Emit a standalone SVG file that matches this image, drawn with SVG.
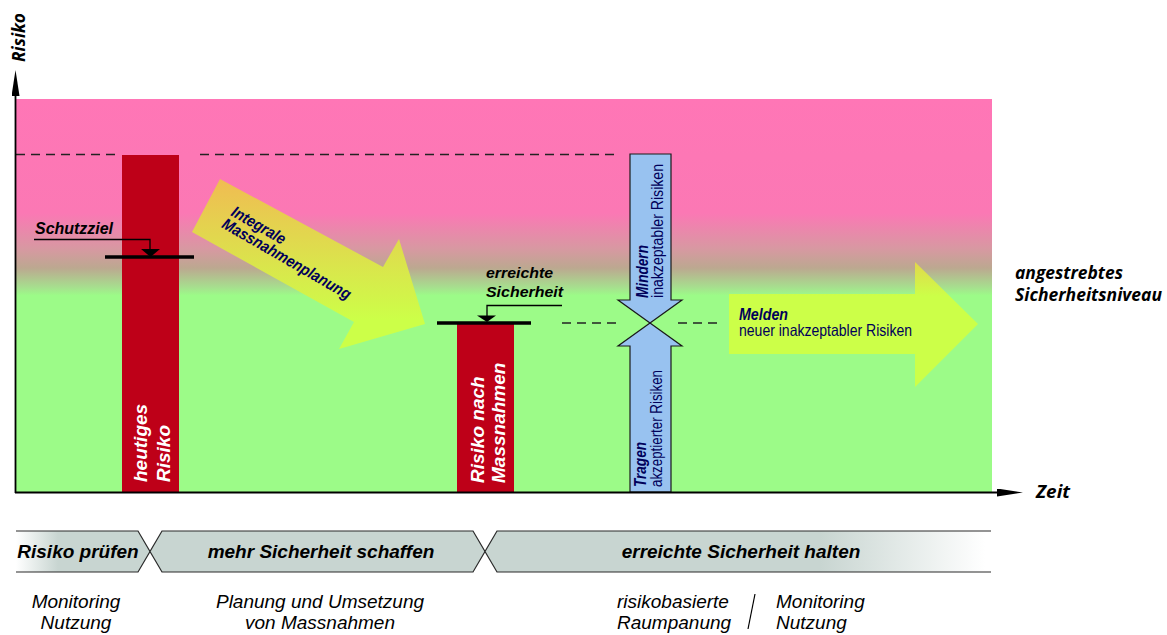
<svg xmlns="http://www.w3.org/2000/svg" width="1167" height="635" viewBox="0 0 1167 635">
<defs>
  <linearGradient id="bg" gradientUnits="userSpaceOnUse" x1="0" y1="99" x2="0" y2="492">
    <stop offset="0" stop-color="#FF76B6"/>
    <stop offset="0.29" stop-color="#FB78B4"/>
    <stop offset="0.38" stop-color="#D898A2"/>
    <stop offset="0.43" stop-color="#BCA890"/>
    <stop offset="0.48" stop-color="#A6E08E"/>
    <stop offset="0.50" stop-color="#9CFB88"/>
    <stop offset="1" stop-color="#9CFB88"/>
  </linearGradient>
  <linearGradient id="yarrow" gradientUnits="userSpaceOnUse" x1="0" y1="180" x2="0" y2="320">
    <stop offset="0" stop-color="#F0BC52"/>
    <stop offset="1" stop-color="#CCFF48"/>
  </linearGradient>
  <linearGradient id="garrow" gradientUnits="userSpaceOnUse" x1="0" y1="262" x2="0" y2="296">
    <stop offset="0" stop-color="#E2D64C"/>
    <stop offset="1" stop-color="#CCFF48"/>
  </linearGradient>
  <linearGradient id="band1" gradientUnits="userSpaceOnUse" x1="16" y1="0" x2="58" y2="0">
    <stop offset="0" stop-color="#FFFFFF"/>
    <stop offset="1" stop-color="#C8D5D1"/>
  </linearGradient>
  <linearGradient id="band3" gradientUnits="userSpaceOnUse" x1="820" y1="0" x2="985" y2="0">
    <stop offset="0" stop-color="#C8D5D1"/>
    <stop offset="1" stop-color="#FFFFFF"/>
  </linearGradient>
  <marker id="ah" viewBox="0 0 26 8" refX="0" refY="4" markerWidth="26" markerHeight="8" markerUnits="userSpaceOnUse" orient="auto">
    <path d="M0,0 L26,4 L0,8 Z" fill="#000"/>
  </marker>
  <style>
    .dash { stroke:#222; stroke-width:1.3; stroke-dasharray:9 6; fill:none; }
    .thick { stroke:#000; stroke-width:3.5; fill:none; }
    .thin { stroke:#000; stroke-width:1.3; fill:none; }
    .red { fill:#BE0018; }
    .blue { fill:#98C2F0; stroke:#1a1a1a; stroke-width:1.2; }
    .band { fill:#C8D5D1; stroke:none; }
    .bandline { fill:none; stroke:#2a2a2a; stroke-width:1.2; }
    .bi { font-family:"Liberation Sans", Arial, sans-serif; font-weight:bold; font-style:italic; }
    .it { font-family:"Liberation Sans", Arial, sans-serif; font-style:italic; }
    .rg { font-family:"Liberation Sans", Arial, sans-serif; }
    .os { font-family:"Open Sans", "DejaVu Sans", sans-serif; font-weight:bold; font-style:italic; fill:#000; }
    .navy { fill:#00005A; }
    .white { fill:#FFFFFF; }
  </style>
</defs>

<g id="background">
  <rect x="16" y="99" width="976" height="393" fill="url(#bg)"/>
</g>

<g id="levels">
  <path class="dash" d="M16,154.5 H118 M200,154.5 H614"/>
  <path class="dash" d="M562,323 H620 M678,323 H722"/>
</g>

<g id="bar-heute">
  <rect class="red" x="122" y="155" width="57" height="337"/>
  <g class="bi white" font-size="19">
    <text transform="translate(147,482) rotate(-90)">heutiges</text>
    <text transform="translate(170,482) rotate(-90)">Risiko</text>
  </g>
</g>

<g id="schutzziel">
  <path class="thick" d="M105,257 H194"/>
  <path class="thin" d="M34,239.5 H150 V249"/>
  <path d="M141,249 L160,249 L150.5,257 Z" fill="#000"/>
  <text class="bi" x="35" y="234" font-size="16" textLength="78" lengthAdjust="spacingAndGlyphs">Schutzziel</text>
</g>

<g id="arrow-massnahmen">
  <path d="M220,179 L383,267 L399,239 L425,324 L339,349 L354,322 L192,232 Z" fill="url(#yarrow)"/>
  <g class="bi navy" font-size="16" transform="translate(230,215) rotate(30)">
    <text x="0" y="0" textLength="60" lengthAdjust="spacingAndGlyphs">Integrale</text>
    <text x="-2" y="15" textLength="146" lengthAdjust="spacingAndGlyphs">Massnahmenplanung</text>
  </g>
</g>

<g id="bar-nach">
  <rect class="red" x="457" y="323" width="57" height="169"/>
  <g class="bi white" font-size="19">
    <text transform="translate(484,483) rotate(-90)">Risiko nach</text>
    <text transform="translate(505,483) rotate(-90)">Massnahmen</text>
  </g>
</g>

<g id="erreichte">
  <path class="thick" d="M437,323 H531"/>
  <path class="thin" d="M562,305.5 H487 V316"/>
  <path d="M477,315.5 L496,315.5 L487,322 Z" fill="#000"/>
  <text class="bi" x="486" y="278" font-size="15.5" textLength="67" lengthAdjust="spacingAndGlyphs">erreichte</text>
  <text class="bi" x="486" y="297" font-size="15.5" textLength="77" lengthAdjust="spacingAndGlyphs">Sicherheit</text>
</g>

<g id="arrow-mindern">
  <path class="blue" d="M630,154 H671 V300 H682 L650,323 L618,300 H630 Z"/>
  <g class="navy" font-size="16">
    <text class="bi" transform="translate(648,298) rotate(-90)" textLength="53" lengthAdjust="spacingAndGlyphs">Mindern</text>
    <text class="rg" transform="translate(663,298) rotate(-90)" textLength="134" lengthAdjust="spacingAndGlyphs">inakzeptabler Risiken</text>
  </g>
</g>

<g id="arrow-tragen">
  <path class="blue" d="M650,323 L682,346 H671 V492 H630 V346 H618 Z"/>
  <g class="navy" font-size="16">
    <text class="bi" transform="translate(646,487) rotate(-90)" textLength="45" lengthAdjust="spacingAndGlyphs">Tragen</text>
    <text class="rg" transform="translate(662,487) rotate(-90)" textLength="117" lengthAdjust="spacingAndGlyphs">akzeptierter Risiken</text>
  </g>
</g>

<g id="arrow-melden">
  <path d="M729,294 H915 V262 L978,324 L915,387 V354 H729 Z" fill="url(#garrow)"/>
  <text class="bi navy" x="739" y="320" font-size="16.5" textLength="49" lengthAdjust="spacingAndGlyphs">Melden</text>
  <text class="rg navy" x="739" y="336" font-size="16.5" textLength="173" lengthAdjust="spacingAndGlyphs">neuer inakzeptabler Risiken</text>
</g>

<g id="axes">
  <line x1="15" y1="492.5" x2="997" y2="492.5" stroke="#000" stroke-width="1.8" marker-end="url(#ah)"/>
  <line x1="15.5" y1="493" x2="15.5" y2="96" stroke="#000" stroke-width="1.8" marker-end="url(#ah)"/>
  <text class="os" transform="translate(25,62) rotate(-90)" font-size="17" textLength="49" lengthAdjust="spacingAndGlyphs">Risiko</text>
  <text class="os" x="1036" y="498" font-size="17" textLength="34" lengthAdjust="spacingAndGlyphs">Zeit</text>
  <text class="os" x="1015" y="279" font-size="17" textLength="108" lengthAdjust="spacingAndGlyphs">angestrebtes</text>
  <text class="os" x="1015" y="301" font-size="17" textLength="147" lengthAdjust="spacingAndGlyphs">Sicherheitsniveau</text>
</g>

<g id="phase-pruefen">
  <path d="M16,531 H138 L150,551.5 L138,572 H16 Z" fill="url(#band1)"/>
  <path class="bandline" d="M16,531 H138 L150,551.5 L138,572 H16"/>
  <text class="bi" x="78" y="558" font-size="19" text-anchor="middle">Risiko prüfen</text>
  <text class="it" x="76" y="608" font-size="19" text-anchor="middle">Monitoring</text>
  <text class="it" x="76" y="629" font-size="19" text-anchor="middle">Nutzung</text>
</g>

<g id="phase-schaffen">
  <path class="band" d="M162,531 H473 L485,551.5 L473,572 H162 L150,551.5 Z"/>
  <path class="bandline" d="M162,531 H473 L485,551.5 L473,572 H162 L150,551.5 Z"/>
  <text class="bi" x="321" y="558" font-size="19" text-anchor="middle">mehr Sicherheit schaffen</text>
  <text class="it" x="320" y="608" font-size="19" text-anchor="middle">Planung und Umsetzung</text>
  <text class="it" x="320" y="629" font-size="19" text-anchor="middle">von Massnahmen</text>
</g>

<g id="phase-halten">
  <path d="M497,531 H991 V572 H497 L485,551.5 Z" fill="url(#band3)"/>
  <path class="bandline" d="M991,531 H497 L485,551.5 L497,572 H991"/>
  <text class="bi" x="741" y="558" font-size="19" text-anchor="middle">erreichte Sicherheit halten</text>
  <text class="it" x="617" y="608" font-size="19">risikobasierte</text>
  <text class="it" x="617" y="629" font-size="19">Raumpanung</text>
  <line x1="755" y1="594" x2="748" y2="629" stroke="#000" stroke-width="1.2"/>
  <text class="it" x="776" y="608" font-size="19">Monitoring</text>
  <text class="it" x="776" y="629" font-size="19">Nutzung</text>
</g>
</svg>
